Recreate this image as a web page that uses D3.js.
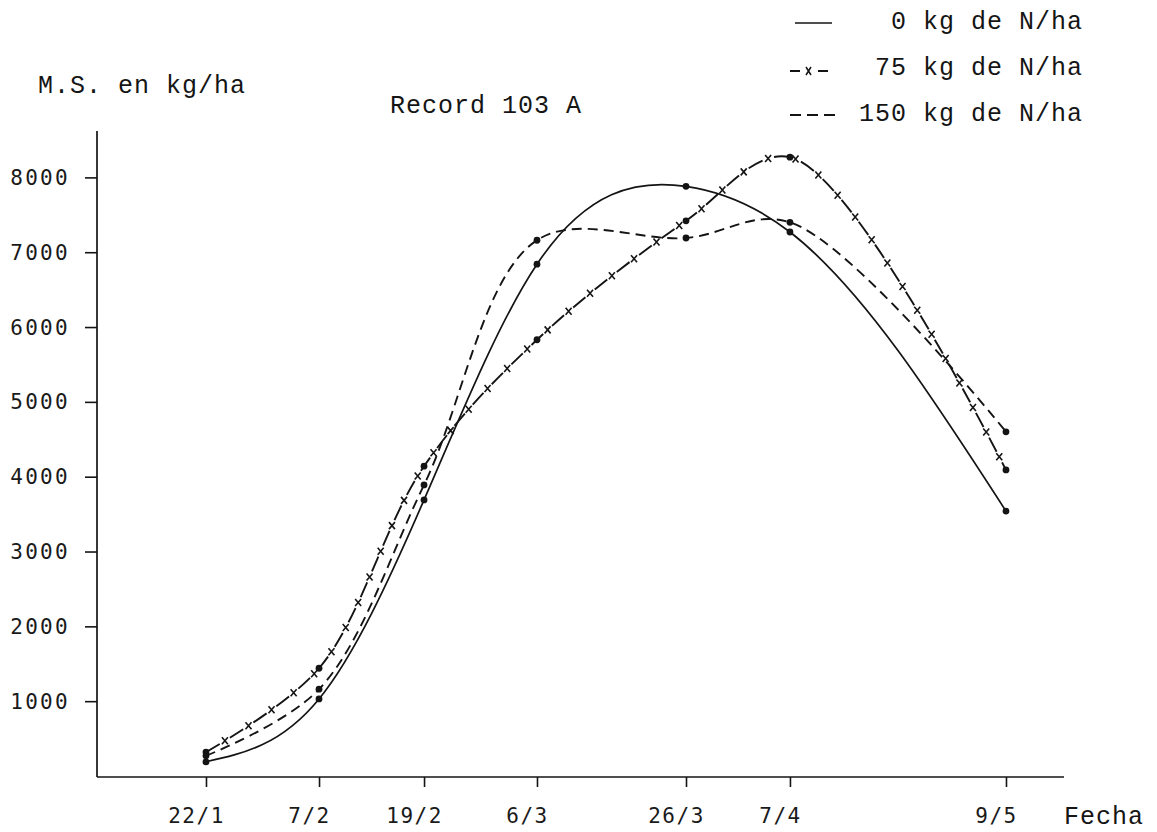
<!DOCTYPE html>
<html>
<head>
<meta charset="utf-8">
<script src="https://cdn.jsdelivr.net/npm/d3@7/dist/d3.min.js"></script>
<style>
  html, body { margin: 0; padding: 0; background: #fff; }
  svg { display: block; }
  .courier { font-family: "Liberation Mono", "Courier New", monospace; font-size: 25px; letter-spacing: 1px; fill: #151515; }
  .tick text { font-family: "DejaVu Sans Mono", monospace; font-size: 21px; fill: #1a1a1a; }
</style>
</head>
<body>
<script>
// ---- data ----
const dateLabels = ["22/1", "7/2", "19/2", "6/3", "26/3", "7/4", "9/5"];
const sampleDays = [22, 38, 50, 65, 85, 97, 129];           // day of year of each sampling
const n0   = [190, 1030, 3690, 6840, 7880, 7270, 3540];      // 0 kg de N/ha
const n75  = [320, 1440, 4140, 5830, 7420, 8270, 4090];      // 75 kg de N/ha
const n150 = [270, 1160, 3890, 7160, 7190, 7400, 4600];      // 150 kg de N/ha
const yTickValues = [1000, 2000, 3000, 4000, 5000, 6000, 7000, 8000];
const legendLabels = ["0 kg de N/ha", "75 kg de N/ha", "150 kg de N/ha"];

// ---- layout ----
const W = 1157, H = 832;
const plotLeft = 97, plotRight = 1064, plotTop = 131, axisY = 777;
const pw = plotRight - plotLeft;
// the original hand-drawn axis does not space dates evenly
const tickFrac = [0.1127, 0.2296, 0.3382, 0.4550, 0.6091, 0.7166, 0.9400];

const x = d3.scaleLinear().domain(sampleDays).range(tickFrac.map(f => plotLeft + f * pw));
const y = d3.scaleLinear().domain([0, 8620]).range([776, plotTop]);

// natural cubic spline as a function of x (custom d3 curve)
function curveNaturalX(context) {
  let pts = [];
  return {
    areaStart() {}, areaEnd() {},
    lineStart() { pts = []; },
    point(px, py) { pts.push([+px, +py]); },
    lineEnd() {
      const n = pts.length;
      if (!n) return;
      context.moveTo(pts[0][0], pts[0][1]);
      if (n < 3) { for (let i = 1; i < n; i++) context.lineTo(pts[i][0], pts[i][1]); return; }
      const h = [], M = new Array(n).fill(0);
      for (let i = 0; i < n - 1; i++) h.push(pts[i + 1][0] - pts[i][0]);
      const a = [], b = [], c = [], d = [];
      for (let i = 1; i < n - 1; i++) {
        a.push(h[i - 1]); b.push(2 * (h[i - 1] + h[i])); c.push(h[i]);
        d.push(6 * ((pts[i + 1][1] - pts[i][1]) / h[i] - (pts[i][1] - pts[i - 1][1]) / h[i - 1]));
      }
      const m = b.length;
      for (let i = 1; i < m; i++) {
        const w = a[i] / b[i - 1];
        b[i] -= w * c[i - 1]; d[i] -= w * d[i - 1];
      }
      const sol = new Array(m);
      sol[m - 1] = d[m - 1] / b[m - 1];
      for (let i = m - 2; i >= 0; i--) sol[i] = (d[i] - c[i] * sol[i + 1]) / b[i];
      for (let i = 0; i < m; i++) M[i + 1] = sol[i];
      for (let i = 0; i < n - 1; i++) {
        const [x0, y0] = pts[i], [x1, y1] = pts[i + 1], hh = h[i];
        const sl = (y1 - y0) / hh;
        const s0 = sl - hh * (2 * M[i] + M[i + 1]) / 6;
        const s1 = sl + hh * (M[i] + 2 * M[i + 1]) / 6;
        context.bezierCurveTo(x0 + hh / 3, y0 + s0 * hh / 3, x1 - hh / 3, y1 - s1 * hh / 3, x1, y1);
      }
    }
  };
}

const svg = d3.select("body").append("svg").attr("width", W).attr("height", H);
const ink = "#141414";

// axes
const yAxis = svg.append("g").attr("transform", `translate(${plotLeft},0)`)
  .call(d3.axisLeft(y).tickValues(yTickValues).tickSize(12).tickSizeOuter(0).tickFormat(d3.format("d")));
yAxis.select(".domain").remove();
yAxis.selectAll(".tick line").attr("stroke", ink).attr("stroke-width", 1.6);
yAxis.selectAll(".tick text").attr("x", -27).attr("dy", 7).style("letter-spacing", "2.3px");

svg.append("line").attr("x1", plotLeft).attr("x2", plotLeft).attr("y1", plotTop).attr("y2", axisY)
  .attr("stroke", ink).attr("stroke-width", 1.7);

const xAxis = svg.append("g").attr("transform", `translate(0,${axisY})`)
  .call(d3.axisBottom(x).tickValues(sampleDays).tickSize(10).tickSizeOuter(0)
        .tickFormat((d, i) => dateLabels[i]));
xAxis.select(".domain").remove();
xAxis.selectAll(".tick line").attr("stroke", ink).attr("stroke-width", 1.6);
xAxis.selectAll(".tick text").attr("y", 46).attr("dy", 0).attr("x", -10).style("letter-spacing", "1.5px");

svg.append("line").attr("x1", plotLeft).attr("x2", plotRight).attr("y1", axisY).attr("y2", axisY)
  .attr("stroke", ink).attr("stroke-width", 1.7);

// texts
svg.append("text").attr("class", "courier").attr("x", 38).attr("y", 93).text("M.S. en kg/ha");
svg.append("text").attr("class", "courier").attr("x", 390).attr("y", 113).text("Record 103 A");
svg.append("text").attr("class", "courier").attr("x", 1064).attr("y", 824).text("Fecha");

// series lines
const lineGen = (curve) => d3.line().x((d, i) => x(sampleDays[i])).y(d => y(d)).curve(curve);

svg.append("path").datum(n0).attr("d", lineGen(curveNaturalX))
  .attr("fill", "none").attr("stroke", ink).attr("stroke-width", 1.7);

svg.append("path").datum(n150).attr("d", lineGen(d3.curveCatmullRom.alpha(0.5)))
  .attr("fill", "none").attr("stroke", ink).attr("stroke-width", 1.9).attr("stroke-dasharray", "10,6");

const p75 = svg.append("path").datum(n75).attr("d", lineGen(d3.curveCatmullRom.alpha(0.5)))
  .attr("fill", "none").attr("stroke", ink).attr("stroke-width", 1.9).attr("stroke-dasharray", "16,12");

// x marks in the gaps of the 75 kg line
const node = p75.node();
const L = node.getTotalLength();
const xm = svg.append("g");
for (let s = 22; s < L - 4; s += 28) {
  const p = node.getPointAtLength(s);
  xm.append("path").attr("d", `M${p.x - 3},${p.y - 3.5}L${p.x + 3},${p.y + 3.5}M${p.x - 3},${p.y + 3.5}L${p.x + 3},${p.y - 3.5}`)
    .attr("stroke", ink).attr("stroke-width", 1.6);
}

// dots at measured points
[n0, n75, n150].forEach(s => {
  svg.append("g").selectAll("circle").data(s).join("circle")
    .attr("cx", (d, i) => x(sampleDays[i])).attr("cy", d => y(d)).attr("r", 3.4).attr("fill", ink);
});

// legend
const lg = svg.append("g");
const rows = [29, 75, 121];
lg.append("line").attr("x1", 795).attr("x2", 832).attr("y1", rows[0] - 6).attr("y2", rows[0] - 6)
  .attr("stroke", ink).attr("stroke-width", 1.7);
lg.append("line").attr("x1", 790).attr("x2", 828).attr("y1", rows[1] - 4).attr("y2", rows[1] - 4)
  .attr("stroke", ink).attr("stroke-width", 1.8).attr("stroke-dasharray", "10,18,10");
lg.append("path").attr("d", `M806,${rows[1] - 8}L811,${rows[1]}M806,${rows[1]}L811,${rows[1] - 8}`)
  .attr("stroke", ink).attr("stroke-width", 1.5);
lg.append("line").attr("x1", 790).attr("x2", 835).attr("y1", rows[2] - 6).attr("y2", rows[2] - 6)
  .attr("stroke", ink).attr("stroke-width", 1.8).attr("stroke-dasharray", "11,6");
legendLabels.forEach((t, i) => {
  lg.append("text").attr("class", "courier").attr("x", 1083).attr("y", rows[i])
    .attr("text-anchor", "end").text(t);
});
</script>
</body>
</html>
